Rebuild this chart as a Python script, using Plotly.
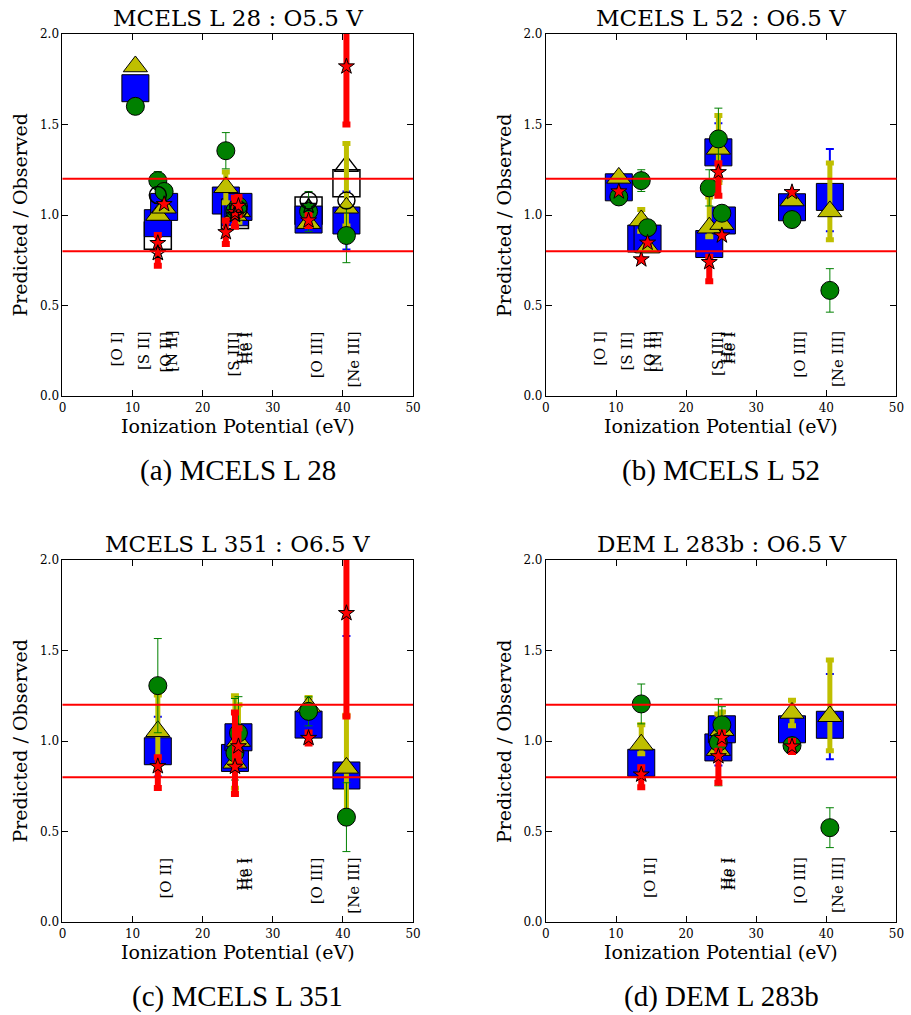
import plotly.graph_objects as go

# ---------------- data ----------------
X_AB = [10.4, 13.6, 14.5, 23.3, 24.6, 25.1, 35.1, 40.5]
X_CD = [13.6, 24.6, 25.1, 35.1, 40.5]

# panel (a) MCELS L 28
A_sq_y = [1.70, 0.955, 1.045, 1.08, 1.015, 1.045, 0.975, 0.97]
A_sq_e = [0, 0, 0, 0, 0, 0, 0, 0.16]
A_tri_y = [1.82, 1.00, 1.04, 1.153, 1.00, 1.02, 0.955, 1.04]
A_tri_ep = [0, 0, 0, 0.085, 0.06, 0.06, 0, 0.355]
A_tri_em = [0, 0, 0, 0.085, 0.06, 0.06, 0, 0.10]
A_cir_y = [1.60, 1.19, 1.13, 1.355, 1.025, 1.05, 1.02, 0.887]
A_cir_e = [0, 0.05, 0, 0.10, 0.05, 0.05, 0.11, 0.15]
A_star_x = [13.6, 14.5, 23.3, 24.6, 25.1, 35.1, 40.5]
A_star_y = [0.845, 1.06, 0.905, 1.015, 1.05, 0.97, 1.82]
A_star_ep = [0.045, 0, 0.065, 0.08, 0.05, 0.03, 0.32]
A_star_em = [0.125, 0, 0.065, 0.08, 0.05, 0.03, 0.32]
A_osq_x = [13.6, 24.6, 35.1, 40.5]
A_osq_y = [0.885, 1.00, 1.025, 1.175]
A_otri_x = [13.6, 35.1, 40.5]
A_otri_y = [0.96, 1.03, 1.27]
A_ocir_x = [13.6, 25.1, 35.1, 40.5]
A_ocir_y = [1.11, 1.03, 1.08, 1.08]
A_ostar_x = [13.6, 24.6, 35.1]
A_ostar_y = [0.79, 1.00, 1.05]

# panel (b) MCELS L 52
B_sq_y = [1.153, 0.87, 0.87, 0.84, 1.346, 0.97, 1.043, 1.10]
B_sq_ep = [0, 0, 0, 0, 0.16, 0, 0, 0.265]
B_sq_em = [0, 0, 0, 0, 0.16, 0, 0, 0.19]
B_tri_y = [1.205, 0.97, 0.82, 0.93, 1.365, 0.95, 1.08, 1.02]
B_tri_ep = [0, 0.06, 0, 0.17, 0.185, 0, 0, 0.267]
B_tri_em = [0, 0.06, 0, 0.05, 0.185, 0, 0, 0.157]
B_cir_y = [1.10, 1.19, 0.93, 1.15, 1.42, 1.01, 0.975, 0.584]
B_cir_e = [0, 0.06, 0, 0.10, 0.17, 0, 0, 0.12]
B_star_x = [10.4, 13.6, 14.5, 23.3, 24.6, 25.1, 35.1]
B_star_y = [1.13, 0.755, 0.847, 0.74, 1.236, 0.887, 1.126]
B_star_ep = [0, 0, 0, 0.03, 0.05, 0, 0]
B_star_em = [0, 0, 0, 0.105, 0.13, 0, 0]

# panel (c) MCELS L 351
C_sq_y = [0.944, 0.907, 1.021, 1.091, 0.81]
C_sq_ep = [0.19, 0.17, 0.05, 0, 0.77]
C_sq_em = [0.14, 0.17, 0.05, 0, 0.0]
C_tri_y = [1.054, 0.88, 1.00, 1.19, 0.852]
C_tri_ep = [0.20, 0.37, 0.20, 0.05, 0.29]
C_tri_em = [0.20, 0.14, 0.10, 0.05, 0.29]
C_cir_y = [1.306, 0.935, 1.045, 1.164, 0.58]
C_cir_ep = [0.26, 0.30, 0.20, 0.08, 0.19]
C_cir_em = [0.26, 0.15, 0.10, 0.08, 0.19]
C_star_x = [13.6, 24.6, 25.1, 35.1, 40.5]
C_star_y = [0.861, 0.858, 0.971, 1.017, 1.706]
C_star_ep = [0.05, 0.30, 0.10, 0.03, 0.57]
C_star_em = [0.12, 0.15, 0.10, 0.03, 0.57]

# panel (d) DEM L 283b
D_sq_y = [0.88, 0.965, 1.065, 1.065, 1.09]
D_sq_ep = [0.05, 0.10, 0.10, 0, 0.28]
D_sq_em = [0.05, 0.10, 0.10, 0, 0.19]
D_tri_y = [0.98, 0.95, 1.06, 1.155, 1.137]
D_tri_ep = [0.11, 0.20, 0.10, 0.07, 0.31]
D_tri_em = [0.05, 0.05, 0.05, 0.07, 0.19]
D_cir_y = [1.205, 0.993, 1.09, 0.975, 0.522]
D_cir_e = [0.11, 0.24, 0.10, 0.04, 0.11]
D_star_x = [13.6, 24.6, 25.1, 35.1]
D_star_y = [0.815, 0.916, 1.017, 0.97]
D_star_ep = [0.04, 0.03, 0.03, 0.03]
D_star_em = [0.07, 0.146, 0.03, 0.03]

AB_labels = ["[O I]", "[S II]", "[O II]", "[N II]", "[S III]", "He I", "He I", "[O III]", "[Ne III]"]
AB_label_x = [6.6, 10.4, 13.6, 14.5, 23.3, 24.6, 25.1, 35.1, 40.5]
CD_labels = ["[O II]", "He I", "He I", "[O III]", "[Ne III]"]
CD_label_x = [13.6, 24.6, 25.1, 35.1, 40.5]
LABEL_Y = 0.37

TITLES = ["MCELS L 28 : O5.5 V", "MCELS L 52 : O6.5 V", "MCELS L 351 : O6.5 V", "DEM L 283b : O6.5 V"]
CAPTIONS = ["(a) MCELS L 28", "(b) MCELS L 52", "(c) MCELS L 351", "(d) DEM L 283b"]
REF_LINES = [0.8, 1.2]
XTICKS = [0, 10, 20, 30, 40, 50]
YTICKS = [0.0, 0.5, 1.0, 1.5, 2.0]

# ---------------- styling ----------------
W, H = 911, 1015
FONT = "DejaVu Serif"
BLUE, YEL, GRN, RED = "#0000ff", "#bfbf00", "#008000", "#ff0000"

# pixel boxes of the four panels in the target picture (left, right, top, bottom)
BOXES = [(64, 415, 33, 396), (548, 899, 33, 396), (64, 415, 560, 923), (548, 899, 560, 923)]

# the rendered page comes out slightly shrunk about its centre; pre-compensate
SHRINK = 0.988
CX, CY = W / 2, H / 2


def px_x(px):
    return (CX + (px - CX) / SHRINK) / W


def px_y(py):
    return 1 - (CY + (py - CY) / SHRINK) / H


fig = go.Figure()


def add(idx, x, y, ep, em, symbol, size, color, ecolor, ethick, lw=1, lcolor="black"):
    sfx = "" if idx == 0 else str(idx + 1)
    kw = {}
    if ep is not None:
        kw["error_y"] = dict(type="data", symmetric=False, array=ep,
                             arrayminus=em if em is not None else ep,
                             color=ecolor, thickness=ethick, width=4)
    fig.add_trace(go.Scatter(
        x=x, y=y, mode="markers", xaxis="x" + sfx, yaxis="y" + sfx,
        marker=dict(symbol=symbol, size=size, color=color,
                    line=dict(color=lcolor, width=lw)),
        showlegend=False, hoverinfo="skip", **kw))


# panel a
add(0, A_osq_x, A_osq_y, None, None, "square-open", 27, "black", None, 0, 1.5)
add(0, A_otri_x, A_otri_y, None, None, "triangle-up-open", 21, "black", None, 0, 1.5)
add(0, X_AB, A_sq_y, A_sq_e, None, "square", 27, BLUE, BLUE, 2)
add(0, X_AB, A_tri_y, A_tri_ep, A_tri_em, "triangle-up", 21, YEL, YEL, 5)
add(0, X_AB, A_cir_y, A_cir_e, None, "circle", 18, GRN, GRN, 1)
add(0, A_ocir_x, A_ocir_y, None, None, "circle-open", 17, "black", None, 0, 1.5)
add(0, A_star_x, A_star_y, A_star_ep, A_star_em, "star", 12, RED, RED, 6)
add(0, A_ostar_x, A_ostar_y, None, None, "star-open", 12, "black", None, 0, 1.2)

# panel b
add(1, X_AB, B_sq_y, B_sq_ep, B_sq_em, "square", 27, BLUE, BLUE, 2)
add(1, X_AB, B_tri_y, B_tri_ep, B_tri_em, "triangle-up", 21, YEL, YEL, 5)
add(1, X_AB, B_cir_y, B_cir_e, None, "circle", 18, GRN, GRN, 1)
add(1, B_star_x, B_star_y, B_star_ep, B_star_em, "star", 12, RED, RED, 6)

# panel c
add(2, X_CD, C_sq_y, C_sq_ep, C_sq_em, "square", 27, BLUE, BLUE, 2)
add(2, X_CD, C_tri_y, C_tri_ep, C_tri_em, "triangle-up", 21, YEL, YEL, 5)
add(2, X_CD, C_cir_y, C_cir_ep, C_cir_em, "circle", 18, GRN, GRN, 1)
add(2, C_star_x, C_star_y, C_star_ep, C_star_em, "star", 12, RED, RED, 6)

# panel d
add(3, X_CD, D_sq_y, D_sq_ep, D_sq_em, "square", 27, BLUE, BLUE, 2)
add(3, X_CD, D_tri_y, D_tri_ep, D_tri_em, "triangle-up", 21, YEL, YEL, 5)
add(3, X_CD, D_cir_y, D_cir_e, None, "circle", 18, GRN, GRN, 1)
add(3, D_star_x, D_star_y, D_star_ep, D_star_em, "star", 12, RED, RED, 6)

layout = dict(width=W, height=H, margin=dict(l=0, r=0, t=0, b=0),
              paper_bgcolor="white", plot_bgcolor="white",
              font=dict(family=FONT, color="black"), showlegend=False)
annotations, shapes = [], []

for i, (l, r, t, b) in enumerate(BOXES):
    sfx = "" if i == 0 else str(i + 1)
    xd = [px_x(l), px_x(r)]
    yd = [px_y(b), px_y(t)]
    common = dict(showline=True, linecolor="black", linewidth=1, mirror="ticks",
                  ticks="inside", ticklen=6, tickcolor="black", showgrid=False,
                  zeroline=False, tickfont=dict(family=FONT, size=12))
    layout["xaxis" + sfx] = dict(domain=xd, range=[0, 50], anchor="y" + sfx,
                                 tickvals=XTICKS, ticktext=[str(v) for v in XTICKS], **common)
    layout["yaxis" + sfx] = dict(domain=yd, range=[0, 2.0], anchor="x" + sfx,
                                 tickvals=YTICKS, ticktext=["%.1f" % v for v in YTICKS], **common)
    for yv in REF_LINES:
        shapes.append(dict(type="line", xref="x" + sfx + " domain", yref="y" + sfx,
                           x0=0, x1=1, y0=yv, y1=yv, layer="above",
                           line=dict(color=RED, width=2)))
    labs, labx = (AB_labels, AB_label_x) if i < 2 else (CD_labels, CD_label_x)
    for txt, xv in zip(labs, labx):
        annotations.append(dict(text=txt, x=xv, y=LABEL_Y, xref="x" + sfx, yref="y" + sfx,
                                textangle=-90, xanchor="left", yanchor="top", xshift=-3,
                                showarrow=False, font=dict(family=FONT, size=15)))
    cxp = px_x((l + r) / 2)
    annotations.append(dict(text=TITLES[i], x=cxp, y=px_y(t - 16), xref="paper", yref="paper",
                            xanchor="center", yanchor="middle", showarrow=False,
                            font=dict(family=FONT, size=23)))
    annotations.append(dict(text="Ionization Potential (eV)", x=cxp, y=px_y(b + 30),
                            xref="paper", yref="paper", xanchor="center", yanchor="middle",
                            showarrow=False, font=dict(family=FONT, size=19)))
    annotations.append(dict(text="Predicted / Observed", x=px_x(l - 42), y=px_y((t + b) / 2),
                            xref="paper", yref="paper", xanchor="center", yanchor="middle",
                            textangle=-90, showarrow=False, font=dict(family=FONT, size=19)))
    annotations.append(dict(text=CAPTIONS[i], x=cxp, y=px_y(b + 74), xref="paper", yref="paper",
                            xanchor="center", yanchor="middle", showarrow=False,
                            font=dict(family="Liberation Serif", size=29)))

layout["annotations"] = annotations
layout["shapes"] = shapes
fig.update_layout(**layout)
fig.write_html("out.html")
